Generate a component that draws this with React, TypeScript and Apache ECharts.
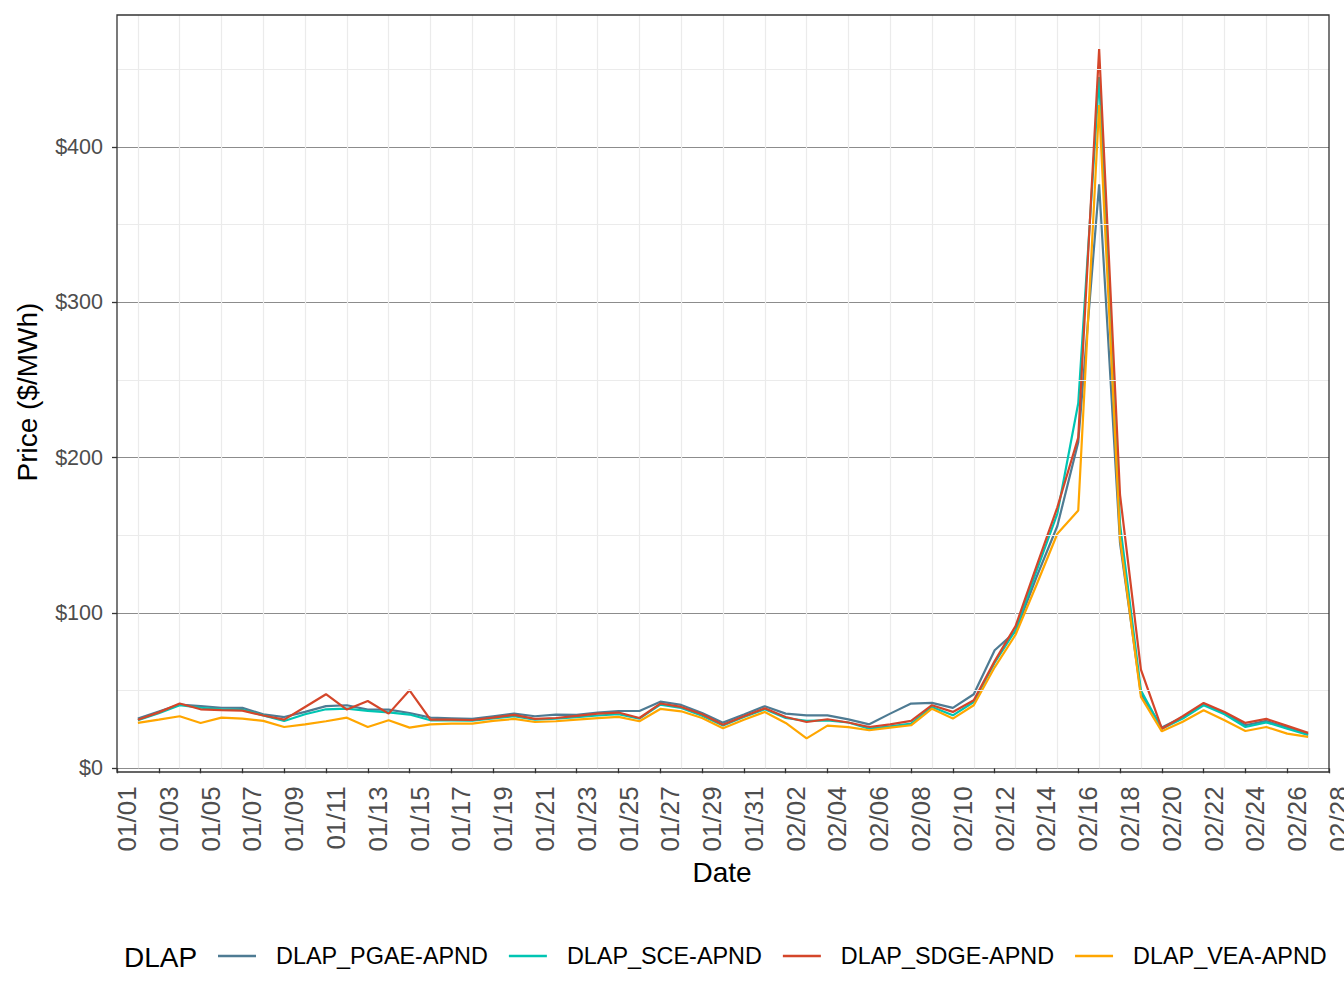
import React, { useEffect, useRef } from "react";
import * as echarts from "echarts";

const dates = [
  "01/02", "01/03", "01/04", "01/05", "01/06", "01/07", "01/08", "01/09", "01/10", "01/11",
  "01/12", "01/13", "01/14", "01/15", "01/16", "01/17", "01/18", "01/19", "01/20", "01/21",
  "01/22", "01/23", "01/24", "01/25", "01/26", "01/27", "01/28", "01/29", "01/30", "01/31",
  "02/01", "02/02", "02/03", "02/04", "02/05", "02/06", "02/07", "02/08", "02/09", "02/10",
  "02/11", "02/12", "02/13", "02/14", "02/15", "02/16", "02/17", "02/18", "02/19", "02/20",
  "02/21", "02/22", "02/23", "02/24", "02/25", "02/26", "02/27",
];

const pgae = [
  32, 36.5, 41, 40, 39, 38.9, 34.8, 33, 36.3, 40,
  40.6, 37.8, 37.8, 35.6, 32.6, 32.2, 31.8, 33.5, 35.2, 33.5,
  34.6, 34.4, 35.9, 36.9, 36.9, 42.9, 40.8, 35.6, 29.4, 34.6,
  40, 35.2, 34.1, 34.1, 31.5, 28.3, 35.2, 41.7, 42.1, 38.9,
  47.7, 76, 88, 123, 156, 210, 376, 145, 48, 26.2,
  33, 41.2, 35.6, 27.7, 30.5, 26.2, 21.9,
];

const sce = [
  31, 35.5, 40.6, 39, 38, 37.6, 34.1, 30.5, 34.8, 38,
  38.4, 37, 36, 34.6, 30.9, 30.9, 30.7, 32.2, 33.5, 31.3,
  32, 33, 34, 34.8, 32, 41, 38.9, 33.9, 27.5, 33,
  38, 32.4, 30.5, 30.9, 29.5, 25.5, 27, 28.8, 39.5, 34.1,
  42.7, 68, 89, 127, 164, 235, 445, 157, 50, 25.5,
  32, 40.6, 34.8, 26.6, 29.6, 25.5, 21.5,
];

const sdge = [
  31.3, 36, 41.7, 38, 37.4, 37.1, 34, 31.3, 39.5, 47.7,
  37.8, 43.3, 35.2, 50.2, 31.3, 31.3, 31.1, 32.6, 34.4, 31.8,
  32.4, 33.7, 35.2, 35.9, 32.4, 41.7, 39.5, 34.8, 28.1, 33.5,
  38.6, 33, 29.8, 31.6, 29.5, 26.6, 28.3, 30.5, 40.6, 36.3,
  43.8, 69, 91.5, 130, 168, 213, 463, 176, 63.5, 25.5,
  33.5, 42.1, 36.3, 29.2, 31.8, 27.3, 22.8,
];

const vea = [
  29.2, 31.3, 33.5, 29.2, 32.6, 32, 30.5, 26.6, 28.3, 30.3,
  32.6, 26.6, 30.9, 26.2, 28.3, 28.8, 28.8, 30.5, 31.8, 29.8,
  30.3, 31.3, 32.3, 33.1, 30.3, 38.2, 36.7, 32.4, 25.8, 31.3,
  36.3, 29.2, 19.3, 27.5, 26.5, 24.5, 26.2, 27.7, 38.4, 32,
  40.6, 65, 86, 118, 151, 166, 427, 148, 46, 23.8,
  30, 37.4, 30.9, 24, 26.6, 22.3, 20.2,
];

const seriesNames = ["DLAP_PGAE-APND", "DLAP_SCE-APND", "DLAP_SDGE-APND", "DLAP_VEA-APND"];
const seriesColors = ["#4E7B93", "#00C5B3", "#D4462A", "#FFA600"];

const xTickLabels = [
  "01/01", "01/03", "01/05", "01/07", "01/09", "01/11", "01/13", "01/15", "01/17", "01/19",
  "01/21", "01/23", "01/25", "01/27", "01/29", "01/31", "02/02", "02/04", "02/06", "02/08",
  "02/10", "02/12", "02/14", "02/16", "02/18", "02/20", "02/22", "02/24", "02/26", "02/28",
];
const yTickValues = [0, 100, 200, 300, 400];
const yMinorValues = [50, 150, 250, 350, 450];

const FONT = "'Liberation Sans', Arial, Helvetica, sans-serif";

// day offset from 01/01
const dayOf = (s: string) => {
  const [m, d] = s.split("/").map(Number);
  return (m === 1 ? 0 : 31) + d - 1;
};

export default function App() {
  const ref = useRef<HTMLDivElement>(null);

  useEffect(() => {
    if (!ref.current) return;
    const chart = echarts.init(ref.current, undefined, { renderer: "svg" });
    const allValues = [pgae, sce, sdge, vea];

    const lineSeries = allValues.map((vals, k) => ({
      name: seriesNames[k],
      type: "line",
      data: dates.map((d, i) => [dayOf(d), vals[i]]),
      showSymbol: false,
      symbol: "none",
      lineStyle: { color: seriesColors[k], width: 2.2 },
      itemStyle: { color: seriesColors[k] },
      z: 3,
    }));

    const option = {
      animation: false,
      backgroundColor: "#ffffff",
      textStyle: { fontFamily: FONT },
      grid: {
        left: 117,
        right: 15,
        top: 15,
        bottom: 239.7,
        containLabel: false,
        outerBoundsMode: "none",
      },
      xAxis: {
        type: "value",
        min: 0,
        max: 58,
        interval: 2,
        offset: 4,
        axisLine: { show: false },
        axisTick: { show: true, length: 5, lineStyle: { color: "#333333", width: 1.3 } },
        axisLabel: {
          show: true,
          rotate: 90,
          margin: 14,
          verticalAlign: "top",
          lineHeight: 20,
          fontSize: 26,
          color: "#4D4D4D",
          fontFamily: FONT,
          showMinLabel: true,
          showMaxLabel: true,
          hideOverlap: false,
          formatter: (v: number) => xTickLabels[Math.round(v / 2)] ?? "",
        },
        splitLine: { show: false },
        minorTick: { show: false, splitNumber: 2 },
        minorSplitLine: { show: true, lineStyle: { color: "#EBEBEB", width: 1.2 } },
      },
      yAxis: {
        type: "value",
        min: 0,
        max: 485,
        interval: 100,
        axisLine: { show: false },
        axisTick: {
          show: true,
          length: 5,
          customValues: yTickValues,
          lineStyle: { color: "#333333", width: 1.3 },
        },
        axisLabel: {
          show: true,
          margin: 14,
          fontSize: 21.5,
          color: "#4D4D4D",
          fontFamily: FONT,
          customValues: yTickValues,
          formatter: (v: number) => "$" + v,
        },
        splitLine: { show: true, lineStyle: { color: "#6E6E6E", width: 0.8 } },
      },
      legend: {
        show: true,
        left: 218,
        top: 942,
        padding: 0,
        orient: "horizontal",
        icon: "rect",
        itemWidth: 38,
        itemHeight: 2.6,
        itemGap: 21,
        data: seriesNames,
        textStyle: {
          fontSize: 23.4,
          color: "#000000",
          fontFamily: FONT,
          padding: [0, 0, 0, 15],
          lineHeight: 28,
        },
      },
      graphic: [
        {
          type: "rect",
          z: 10,
          silent: true,
          shape: { x: 117, y: 15, width: 1212, height: 757 },
          style: { fill: "none", stroke: "#333333", lineWidth: 1.3 },
        },
        {
          type: "text",
          x: 722,
          y: 872,
          style: {
            text: "Date",
            fontSize: 28,
            fill: "#000000",
            fontFamily: FONT,
            textAlign: "center",
            textVerticalAlign: "middle",
          },
        },
        {
          type: "text",
          x: 27,
          y: 392,
          rotation: Math.PI / 2,
          style: {
            text: "Price ($/MWh)",
            fontSize: 28,
            fill: "#000000",
            fontFamily: FONT,
            textAlign: "center",
            textVerticalAlign: "middle",
          },
        },
        {
          type: "text",
          x: 124,
          y: 957,
          style: {
            text: "DLAP",
            fontSize: 28,
            fill: "#000000",
            fontFamily: FONT,
            textAlign: "left",
            textVerticalAlign: "middle",
          },
        },
      ],
      series: [
        {
          name: "__grid",
          type: "line",
          data: [],
          silent: true,
          z: 1,
          markLine: {
            silent: true,
            symbol: "none",
            label: { show: false },
            lineStyle: { color: "#EBEBEB", width: 1.2, type: "solid" },
            data: yMinorValues.map((v) => ({ yAxis: v })),
          },
        },
        ...lineSeries,
      ],
    };

    chart.setOption(option as any);
    return () => chart.dispose();
  }, []);

  return (
    <div
      ref={ref}
      style={{ position: "fixed", left: 0, top: 0, width: 1344, height: 1008, background: "#fff" }}
    />
  );
}
